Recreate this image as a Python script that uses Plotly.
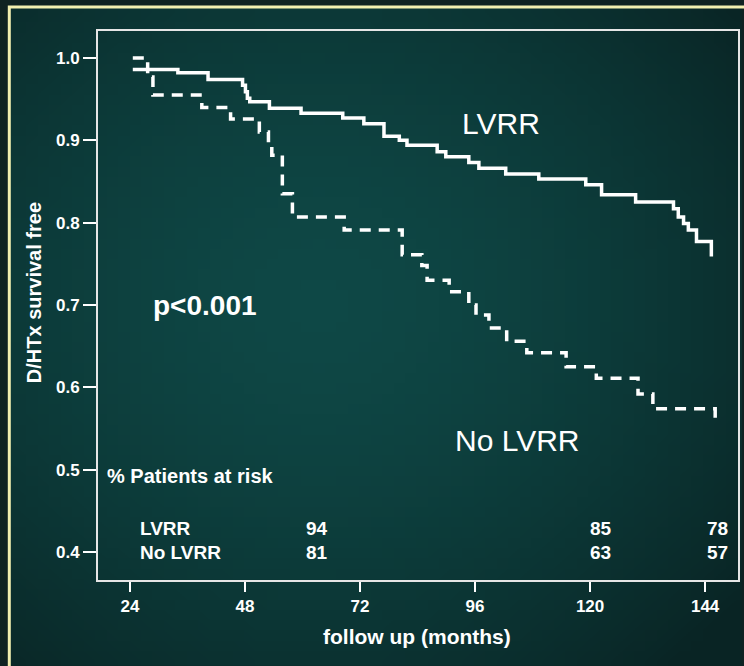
import base64
import struct
import zlib

import plotly.graph_objects as go

# ---- data ----
lvrr_months = [24.6, 34.0, 40.3, 47.5, 48.1, 48.5, 49.0, 53.1, 59.7, 68.4, 72.8, 77.0, 80.2, 81.8,
               88.1, 89.9, 94.7, 96.8, 102.4, 109.3, 119.1, 122.4, 129.5, 137.4, 138.4, 139.5,
               140.5, 142.2, 145.3]
lvrr_surv = [0.986, 0.982, 0.974, 0.967, 0.959, 0.951, 0.947, 0.939, 0.933, 0.927, 0.920, 0.905,
             0.900, 0.894, 0.886, 0.880, 0.873, 0.866, 0.859, 0.853, 0.846, 0.834, 0.825, 0.817,
             0.807, 0.799, 0.791, 0.777, 0.759]

nolvrr_months = [24.6, 27.7, 28.8, 39.0, 45.0, 51.0, 52.9, 53.6, 55.8, 57.9, 68.7, 80.8, 84.9,
                 86.0, 90.6, 94.7, 96.2, 98.9, 102.6, 106.8, 115.0, 121.3, 130.0, 133.1, 146.1]
nolvrr_surv = [1.000, 0.977, 0.955, 0.940, 0.926, 0.910, 0.894, 0.882, 0.835, 0.807, 0.791,
               0.761, 0.748, 0.730, 0.716, 0.700, 0.688, 0.672, 0.656, 0.642, 0.625, 0.611,
               0.592, 0.574, 0.554]

x_ticks = [24, 48, 72, 96, 120, 144]
y_ticks = [0.4, 0.5, 0.6, 0.7, 0.8, 0.9, 1.0]

risk_groups = ["LVRR", "No LVRR"]
risk_positions = [63.1, 122.2, 146.5]
risk_lvrr = [94, 85, 78]
risk_nolvrr = [81, 63, 57]

FONT = "Liberation Sans, Arial, sans-serif"
WHITE = "#ffffff"


# ---- background vignette (decoration only) ----
def vignette_png(w=64, h=64):
    c_in = (14, 72, 70)
    c_out = (9, 36, 36)
    cx, cy = 0.42, 0.45
    raw = bytearray()
    for j in range(h):
        raw.append(0)
        for i in range(w):
            dx = (i / (w - 1) - cx) / 0.75
            dy = (j / (h - 1) - cy) / 0.75
            t = min(1.0, (dx * dx + dy * dy) ** 0.5)
            t = t ** 1.6
            for k in range(3):
                raw.append(int(round(c_in[k] + (c_out[k] - c_in[k]) * t)))

    def chunk(tag, data):
        c = struct.pack(">I", len(data)) + tag + data
        return c + struct.pack(">I", zlib.crc32(tag + data) & 0xFFFFFFFF)

    png = b"\x89PNG\r\n\x1a\n"
    png += chunk(b"IHDR", struct.pack(">IIBBBBB", w, h, 8, 2, 0, 0, 0))
    png += chunk(b"IDAT", zlib.compress(bytes(raw), 9))
    png += chunk(b"IEND", b"")
    return "data:image/png;base64," + base64.b64encode(png).decode()


fig = go.Figure()
fig.add_trace(go.Scatter(x=lvrr_months, y=lvrr_surv, mode="lines", line_shape="hv",
                         line=dict(color=WHITE, width=3.5), name="LVRR", showlegend=False))
fig.add_trace(go.Scatter(x=nolvrr_months, y=nolvrr_surv, mode="lines", line_shape="hv",
                         line=dict(color=WHITE, width=3.5, dash="11px,8px"), name="No LVRR",
                         showlegend=False))

ann = []
ann.append(dict(x=101.4, y=0.920, text="LVRR", font=dict(size=30, color=WHITE, family=FONT)))
ann.append(dict(x=104.7, y=0.535, text="No LVRR", font=dict(size=30, color=WHITE, family=FONT)))
ann.append(dict(x=39.6, y=0.700, text="<b>p<0.001</b>", font=dict(size=28, color=WHITE, family=FONT)))
ann.append(dict(x=18.8, y=0.4923, text="<b>% Patients at risk</b>", xanchor="left",
                font=dict(size=20, color=WHITE, family=FONT)))
row_y = [0.4291, 0.3988]
for g, yy in zip(risk_groups, row_y):
    ann.append(dict(x=25.66, y=yy, text="<b>%s</b>" % g, xanchor="left",
                    font=dict(size=19, color=WHITE, family=FONT)))
for vals, yy in zip([risk_lvrr, risk_nolvrr], row_y):
    for xp, v in zip(risk_positions, vals):
        ann.append(dict(x=xp, y=yy, text="<b>%d</b>" % v,
                        font=dict(size=19, color=WHITE, family=FONT)))
for a in ann:
    a.setdefault("xref", "x")
    a.setdefault("yref", "y")
    a.setdefault("showarrow", False)
    a.setdefault("xanchor", "center")
    a.setdefault("yanchor", "middle")

ann.append(dict(xref="paper", yref="paper", x=-0.0997, y=0.5228, text="<b>D/HTx survival free</b>",
                textangle=-90, showarrow=False, xanchor="center", yanchor="middle",
                font=dict(size=20, color=WHITE, family=FONT)))
ann.append(dict(xref="paper", yref="paper", x=0.4984, y=-0.1038, text="<b>follow up (months)</b>",
                showarrow=False, xanchor="center", yanchor="middle",
                font=dict(size=21, color=WHITE, family=FONT)))

shapes = [
    dict(type="rect", xref="paper", yref="paper", x0=-0.1386, y0=-0.3, x1=1.2, y1=1.0437,
         line=dict(color="#f2efb0", width=3), fillcolor="rgba(0,0,0,0)", layer="below"),
]

images = [
    dict(source=vignette_png(), xref="paper", yref="paper", x=-0.1386, y=1.0437,
         sizex=1.145, sizey=1.2, sizing="stretch", xanchor="left", yanchor="top",
         layer="below", opacity=1),
]

fig.update_layout(
    width=744, height=666,
    margin=dict(l=98, r=4, t=31, b=86),
    paper_bgcolor="#0f2222",
    plot_bgcolor="rgba(0,0,0,0)",
    font=dict(family=FONT, color=WHITE),
    annotations=ann,
    shapes=shapes,
    images=images,
    xaxis=dict(range=[17.34, 150.86], tickvals=x_ticks, ticktext=[str(t) for t in x_ticks],
               showgrid=False, zeroline=False, showline=True, mirror=True,
               linecolor="#e6e6e6", linewidth=2, ticks="outside", ticklen=10, tickwidth=2,
               tickcolor=WHITE, tickfont=dict(size=17, color=WHITE, family=FONT, weight="bold")),
    yaxis=dict(range=[0.3660, 1.0328], tickvals=y_ticks, ticktext=["%.1f" % t for t in y_ticks],
               showgrid=False, zeroline=False, showline=True, mirror=True,
               linecolor="#e6e6e6", linewidth=2, ticks="outside", ticklen=13, tickwidth=2,
               tickcolor=WHITE, tickfont=dict(size=17, color=WHITE, family=FONT, weight="bold")),
)

fig.write_html("out.html", config={"displayModeBar": False},
               post_script="document.body.style.margin='0px';document.body.style.overflow='hidden';")
